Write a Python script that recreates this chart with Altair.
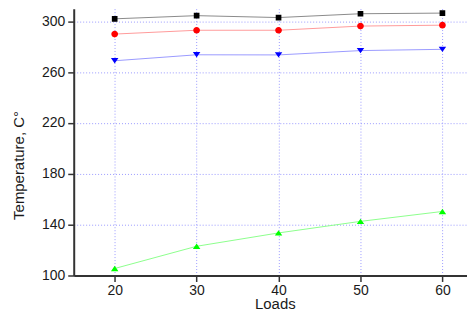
import altair as alt
import pandas as pd

loads = [20, 30, 40, 50, 60]
series = ["T_HOT", "T_STM_NOZZLE_CAL", "T_REGION B_WALL_SURFACE_CAL", "T_METAL_HOR_ENCLOSURE_CAL"]
t_hot = [302, 304.5, 303, 306, 306.5]
t_stm = [290, 293, 293, 296.3, 297]
t_region = [105.5, 123, 133.5, 142.6, 150.4]
t_metal = [269, 273.7, 273.6, 277, 278]
values = [t_hot, t_stm, t_region, t_metal]

marker_colors = ["#000000", "#ff0000", "#00ff00", "#0000ff"]
line_colors = ["#8a8a8a", "#ff9a9a", "#8cff8c", "#9a9aff"]
shapes = [
    "M-1.6,0H-0.55M0.55,0H1.6M-0.38,-0.38H0.38V0.38H-0.38Z",
    "M-1.6,0H-0.55M0.55,0H1.6M0.45,0A0.45,0.45 0 1,1 -0.45,0A0.45,0.45 0 1,1 0.45,0Z",
    "M-1.6,0H-0.55M0.55,0H1.6M0,-0.36L0.5,0.36L-0.5,0.36Z",
    "M-1.6,0H-0.55M0.55,0H1.6M0,0.36L0.5,-0.36L-0.5,-0.36Z",
]

y_major = list(range(100, 301, 20))
x_major = [20, 30, 40, 50, 60]

rows = []
for i, s in enumerate(series):
    for l, v in zip(loads, values[i]):
        rows.append({"load": l, "temp": v, "series": s})
df = pd.DataFrame(rows)

FONT = "Liberation Sans"
xscale = alt.Scale(domain=[15, 63], nice=False, zero=False)
yscale = alt.Scale(domain=[100, 310], nice=False, zero=False)

x_main = alt.X("load:Q", scale=xscale, axis=alt.Axis(
    values=x_major, title="Loads", grid=True, tickSize=6, labelPadding=2,
    titleX=202, titleY=36, titleBaseline="bottom"))
y_main = alt.Y("temp:Q", scale=yscale, axis=alt.Axis(
    values=y_major, title="Temperature, C°", grid=True, tickSize=6, labelPadding=3,
    titleX=-55, titleY=157, titleAlign="center", titleBaseline="middle", titleAngle=-90))

base = alt.Chart(df)

lines = base.mark_line(strokeWidth=1).encode(
    x=x_main, y=y_main,
    detail="series:N",
    stroke=alt.Stroke("series:N", scale=alt.Scale(domain=series, range=line_colors), legend=None),
)

leg = alt.Legend(title=None, orient="none", legendX=62, legendY=87)
points = base.mark_point(filled=True, size=225, strokeWidth=0, opacity=1).encode(
    x=alt.X("load:Q", scale=xscale),
    y=alt.Y("temp:Q", scale=yscale),
    color=alt.Color("series:N", scale=alt.Scale(domain=series, range=marker_colors), legend=leg),
    stroke=alt.Stroke("series:N", scale=alt.Scale(domain=series, range=line_colors), legend=leg),
    shape=alt.Shape("series:N", scale=alt.Scale(domain=series, range=shapes), legend=leg),
)

chart = alt.layer(lines, points).properties(
    width=395, height=268,
    padding={"left": 4, "top": 0, "right": 0, "bottom": 0},
).configure_view(stroke=None).configure_axis(
    labelFont=FONT, titleFont=FONT, labelFontSize=14, titleFontSize=15,
    labelColor="#1a1a1a", titleColor="#1a1a1a", titleFontWeight="normal",
    domainColor="#333333", domainWidth=2, tickColor="#333333", tickWidth=1.5,
    gridColor="#9a9aff", gridDash=[1, 2], gridWidth=1,
).configure_legend(
    labelFont=FONT, labelFontSize=15, labelColor="#111111",
    strokeColor="#444444", fillColor="#ffffff", padding=6,
    symbolSize=225, symbolStrokeWidth=1, rowPadding=0,
)

chart.save("out.html", embed_options={"renderer": "svg", "actions": False})
